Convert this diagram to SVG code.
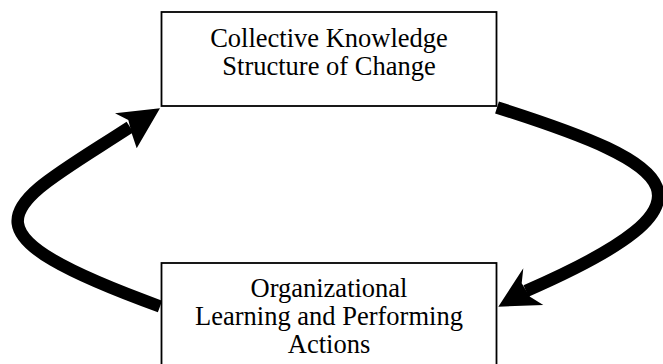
<svg xmlns="http://www.w3.org/2000/svg" width="663" height="364" viewBox="0 0 663 364">
  <style>
    .box { fill: #ffffff; stroke: #000000; stroke-width: 1.8; }
    .label { font-family: "Liberation Serif", "Times New Roman", serif; font-size: 26.5px; fill: #000000; text-anchor: middle; }
    .flow { fill: none; stroke: #000000; stroke-width: 12.5; stroke-linecap: butt; }
    .head { fill: #000000; stroke: none; }
  </style>
  <rect width="663" height="364" fill="#ffffff"/>

  <!-- cycle connectors -->
  <g id="connectors">
    <!-- knowledge structure -> organizational learning (right side) -->
    <g id="edge-knowledge-to-learning">
      <path class="flow" d="M497,107.5 C678,165 732,201 526,291"/>
      <polygon class="head" points="498.3,306.7 523.3,268.3 521.7,283.3 530,296.7 543.3,305"/>
    </g>
    <!-- organizational learning -> knowledge structure (left side) -->
    <g id="edge-learning-to-knowledge">
      <path class="flow" d="M160,306.5 C-56.5,227.7 7.8,206.4 130,127"/>
      <polygon class="head" points="160,108.3 115,113.3 128.3,120 131.7,133.3 136.7,148.3"/>
    </g>
  </g>

  <g id="node-knowledge">
    <rect class="box" x="161.5" y="12" width="335" height="94"/>
    <text class="label" x="329" y="46.7">Collective Knowledge</text>
    <text class="label" x="329" y="75">Structure of Change</text>
  </g>

  <g id="node-learning">
    <rect class="box" x="161.5" y="263" width="335" height="110"/>
    <text class="label" x="329" y="296.7">Organizational</text>
    <text class="label" x="329" y="325">Learning and Performing</text>
    <text class="label" x="329" y="353.3">Actions</text>
  </g>
</svg>
